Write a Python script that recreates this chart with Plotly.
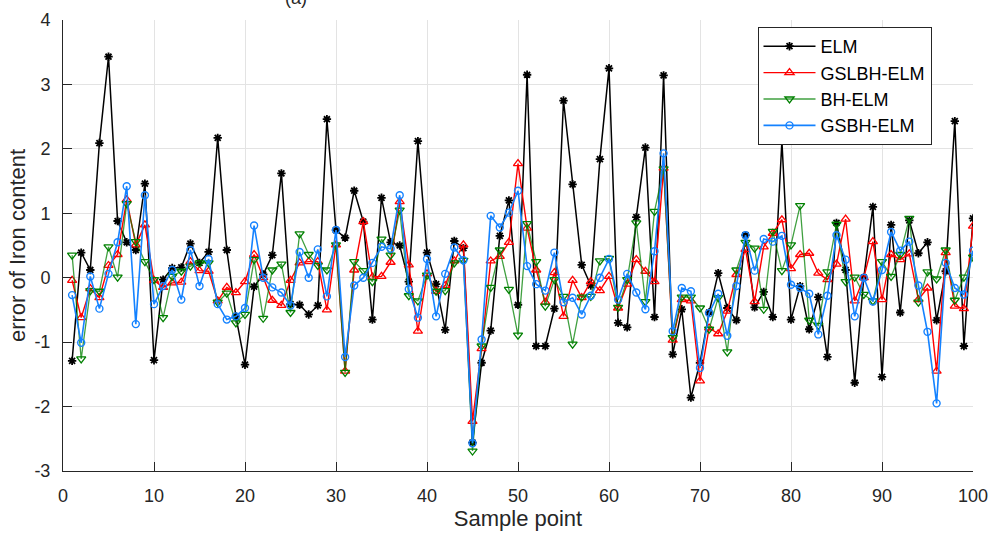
import plotly.graph_objects as go

samples = list(range(1, 101))

elm = [-1.29, 0.39, 0.12, 2.09, 3.43, 0.88, 0.55, 0.43, 1.46, -1.28,
       -0.03, 0.15, 0.16, 0.53, 0.23, 0.40, 2.17, 0.43, -0.60, -1.35,
       -0.14, 0.05, 0.35, 1.62, -0.41, -0.42, -0.57, -0.43, 2.46, 0.74,
       0.62, 1.35, 0.87, -0.65, 1.24, 0.55, 0.50, -0.06, 2.12, 0.39,
       -0.10, -0.81, 0.57, 0.46, -2.56, -1.32, -0.82, 0.65, 1.20, -0.42,
       3.15, -1.06, -1.06, -0.48, 2.75, 1.45, 0.20, -0.12, 1.84, 3.25,
       -0.70, -0.77, 0.94, 2.02, -0.61, 3.14, -1.19, -0.49, -1.86, -1.32,
       -0.54, 0.07, -0.47, -0.66, 0.66, -0.46, -0.22, -0.61, 2.12, -0.65,
       -0.13, -0.80, -0.30, -1.23, 0.85, 0.12, -1.63, 0.00, 1.10, -1.54,
       0.82, -0.54, 0.89, 0.38, 0.55, -0.66, 0.10, 2.43, -1.06, 0.92]

gslbh = [-0.04, -0.62, -0.17, -0.31, 0.19, 0.36, 1.21, 0.51, 0.82, -0.04,
         -0.15, -0.08, -0.07, 0.25, 0.11, 0.10, -0.36, -0.15, -0.23, -0.06,
         0.36, 0.00, -0.35, -0.43, -0.04, 0.23, 0.25, 0.25, -0.50, 0.51,
         -1.45, 0.12, 0.87, 0.01, 0.02, 0.24, 1.18, 0.20, -0.83, 0.06,
         -0.21, -0.12, 0.26, 0.51, -2.23, -1.10, 0.26, 0.33, 0.55, 1.77,
         0.77, 0.12, -0.38, 0.08, -0.60, -0.04, -0.31, -0.06, -0.20, 0.02,
         -0.47, -0.10, 0.28, 0.10, -0.06, 1.70, -0.97, -0.34, -0.36, -1.60,
         -0.78, -0.87, -0.52, 0.05, 0.44, -0.37, 0.48, 0.69, 0.90, 0.14,
         0.36, 0.38, 0.07, -0.03, 0.21, 0.91, -0.36, 0.00, 0.56, -0.34,
         0.36, 0.28, 0.37, -0.34, -0.16, -1.45, 0.39, -0.44, -0.48, 0.80]

bh = [0.35, -1.26, -0.20, -0.21, 0.48, 0.01, 1.15, 0.56, 0.25, -0.03,
      -0.62, 0.02, 0.10, 0.18, 0.23, 0.23, -0.38, -0.24, -0.70, -0.57,
      0.28, -0.63, 0.12, 0.21, -0.54, 0.68, 0.36, 0.19, 0.12, 0.51,
      -1.47, 0.25, 0.11, -0.06, 0.60, 0.35, 1.05, -0.28, -0.36, 0.04,
      -0.21, -0.20, 0.23, 0.27, -2.69, -1.06, -0.15, 0.43, -0.18, -0.89,
      0.84, 0.25, -0.44, -0.03, -0.29, -1.03, -0.30, -0.29, 0.26, 0.30,
      -0.46, -0.03, 0.85, -0.37, 1.03, 1.69, -0.93, -0.30, -0.30, -0.47,
      -0.80, -0.31, -1.15, 0.12, 0.55, 0.46, -0.49, 0.72, 0.11, 0.51,
      1.12, -0.66, -0.74, 0.09, 0.83, -0.06, 0.01, -0.26, -0.36, 0.25,
      0.02, 0.36, 0.92, -0.38, 0.09, -0.02, 0.43, -0.35, 0.01, 0.32]

gsbh = [-0.27, -1.01, 0.02, -0.48, 0.06, 0.55, 1.42, -0.72, 1.28, -0.41,
        -0.13, 0.12, -0.34, 0.43, -0.13, 0.29, -0.41, -0.65, -0.60, -0.47,
        0.81, 0.00, -0.15, -0.23, -0.43, 0.40, 0.00, 0.44, -0.29, 0.74,
        -1.23, -0.12, 0.00, 0.23, 0.48, 0.45, 1.28, -0.18, -0.62, 0.29,
        -0.60, 0.06, 0.47, 0.27, -2.57, -0.96, 0.96, 0.78, 1.01, 1.35,
        0.18, -0.10, -0.20, 0.39, -0.38, -0.31, -0.57, -0.28, 0.00, 0.29,
        -0.34, 0.06, -0.23, -0.49, 0.41, 1.93, -0.83, -0.16, -0.21, -1.40,
        -0.55, -0.25, -0.90, -0.13, 0.66, 0.11, 0.60, 0.56, 0.65, -0.11,
        -0.16, -0.25, -0.88, -0.28, 0.66, 0.28, -0.60, 0.00, -0.37, 0.12,
        0.71, 0.42, 0.56, -0.12, -0.84, -1.95, 0.23, -0.16, -0.26, 0.42]

x_ticks = list(range(0, 101, 10))
y_ticks = list(range(-3, 5))
y_tick_text = [str(v) for v in y_ticks]

FONT = "Liberation Sans, Arial"

fig = go.Figure()
fig.add_trace(go.Scatter(
    x=samples, y=elm, name="ELM", mode="lines+markers",
    line=dict(color="black", width=1.5),
    marker=dict(symbol="asterisk-open", size=7, color="black",
                line=dict(width=1.8, color="black"))))
fig.add_trace(go.Scatter(
    x=samples, y=gslbh, name="GSLBH-ELM", mode="lines+markers",
    line=dict(color="rgb(255,0,0)", width=1.4),
    marker=dict(symbol="triangle-up-open", size=8, color="rgb(255,0,0)",
                line=dict(width=1.3, color="rgb(255,0,0)"))))
fig.add_trace(go.Scatter(
    x=samples, y=bh, name="BH-ELM", mode="lines+markers",
    line=dict(color="rgba(0,128,0,0.75)", width=1.3),
    marker=dict(symbol="triangle-down-open", size=8, color="rgb(0,128,0)",
                line=dict(width=1.3, color="rgb(0,128,0)"))))
fig.add_trace(go.Scatter(
    x=samples, y=gsbh, name="GSBH-ELM", mode="lines+markers",
    line=dict(color="rgb(20,130,255)", width=1.6),
    marker=dict(symbol="circle-open", size=7, color="rgb(20,130,255)",
                line=dict(width=1.4, color="rgb(20,130,255)"))))

axis_common = dict(
    showgrid=True, gridcolor="#e3e3e3", gridwidth=1,
    showline=True, linecolor="#262626", linewidth=1,
    ticks="inside", ticklen=9, tickcolor="#262626", tickwidth=1,
    zeroline=False, mirror=False, automargin=False,
    ticklabelstandoff=8,
    tickfont=dict(family=FONT, size=18, color="#262626"),
)

fig.update_layout(
    width=989, height=534,
    margin=dict(l=63, r=16, t=20, b=63),
    paper_bgcolor="white", plot_bgcolor="white",
    font=dict(family=FONT, color="#262626"),
    xaxis=dict(range=[0, 100], tickvals=x_ticks, **axis_common,
               title=dict(text="Sample point", standoff=6,
                          font=dict(family=FONT, size=22, color="#262626"))),
    yaxis=dict(range=[-3, 4], tickvals=y_ticks, ticktext=y_tick_text,
               **axis_common,
               title=dict(text="error of Iron content", standoff=2,
                          font=dict(family=FONT, size=22, color="#262626"))),
    legend=dict(x=(757.5 - 63) / 910, y=1 - (27 - 20) / 451,
                xanchor="left", yanchor="top",
                bgcolor="white", bordercolor="#262626", borderwidth=1,
                font=dict(family=FONT, size=18, color="black"),
                itemwidth=52, tracegroupgap=0),
    showlegend=True,
)

fig.add_annotation(text="(a)", xref="paper", yref="paper",
                   x=(296 - 63) / 910, y=1 + 22 / 451, xanchor="center",
                   yanchor="middle", showarrow=False,
                   font=dict(family=FONT, size=18, color="#262626"))

fig.write_html("out.html")
